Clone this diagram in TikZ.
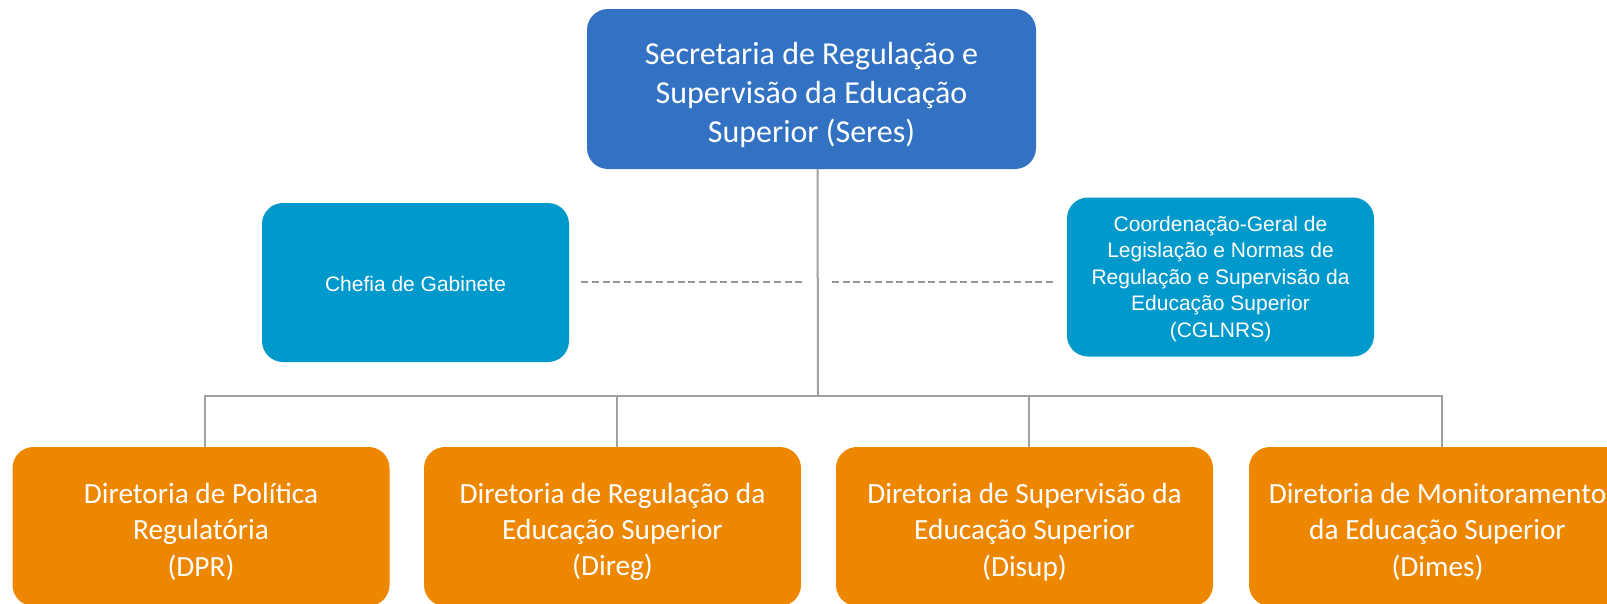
\documentclass[tikz,border=0pt]{standalone}
\usepackage{fontspec}
\setmainfont{Carlito}
\newfontfamily\arialfont{Liberation Sans}
\usepackage{tikz}

\definecolor{seresblue}{RGB}{51,114,194}
\definecolor{staffcyan}{RGB}{0,153,204}
\definecolor{dirorange}{RGB}{238,135,0}
\definecolor{linegray}{RGB}{160,160,160}
\definecolor{dashgray}{RGB}{150,150,150}

% taller first line, so the text sits a little lower in its box
\newcommand{\padtop}[1]{\rule{0pt}{#1}}

\begin{document}
\begin{tikzpicture}[x=1pt,y=-1pt,
    orgbox/.style={fill=#1, draw=none, rounded corners=21pt, text=white,
      align=center, inner sep=0pt},
    topbox/.style={orgbox=seresblue, minimum width=449pt, minimum height=160pt,
      font=\fontsize{32}{39}\selectfont},
    staffbox/.style={orgbox=staffcyan, minimum width=307pt, minimum height=159pt,
      font=\arialfont\fontsize{21}{26.4}\selectfont},
    dirbox/.style={orgbox=dirorange, minimum width=377pt, minimum height=159pt,
      font=\fontsize{29.3}{36.4}\selectfont},
    tree/.style={draw=linegray, line width=2pt},
    link/.style={draw=dashgray, line width=2.5pt, dash pattern=on 7pt off 3.7pt}]
      \useasboundingbox (0,0) rectangle (1607,603);

      \node[topbox] (seres) at (811.5,89)
        {\padtop{34pt}Secretaria de Regulação e\\Supervisão da Educação\\Superior (Seres)};
      \node[staffbox] (chefia) at (415.5,282.5) {\padtop{19pt}Chefia de Gabinete};
      \node[staffbox] (cglnrs) at (1220.5,277)
        {\padtop{19pt}Coordenação-Geral de\\Legislação e Normas de\\Regulação e Supervisão da\\Educação Superior\\(CGLNRS)};

      \node[dirbox] (dpr) at (201,526.5)
        {\padtop{31pt}Diretoria de Política\\Regulatória\\(DPR)};
      \node[dirbox] (direg) at (612.5,526.5)
        {\padtop{31pt}Diretoria de Regulação da\\Educação Superior\\(Direg)};
      \node[dirbox] (disup) at (1024.5,526.5)
        {\padtop{31pt}Diretoria de Supervisão da\\Educação Superior\\(Disup)};
      \node[dirbox] (dimes) at (1437.5,526.5)
        {\padtop{31pt}Diretoria de Monitoramento\\da Educação Superior\\(Dimes)};

      % trunk and bus
      \coordinate (top) at ([xshift=6pt]seres.south);
      \coordinate (bus) at (818,395.5);
      \coordinate (side) at (818,282);
      \draw[tree] (top) -- (bus);
      \draw[tree] ([xshift=4pt]dpr.north) |- (bus) -| ([xshift=4pt]dimes.north);
      \draw[tree] ([xshift=4pt]direg.north) -- ([xshift=4pt]direg.north |- bus);
      \draw[tree] ([xshift=4pt]disup.north) -- ([xshift=4pt]disup.north |- bus);

      % staff links
      \draw[link, shorten <=12pt, shorten >=15pt] (chefia.east |- side) -- (side);
      \draw[link, shorten <=14pt, shorten >=13pt] (side) -- (cglnrs.west |- side);
    \end{tikzpicture}
\end{document}
